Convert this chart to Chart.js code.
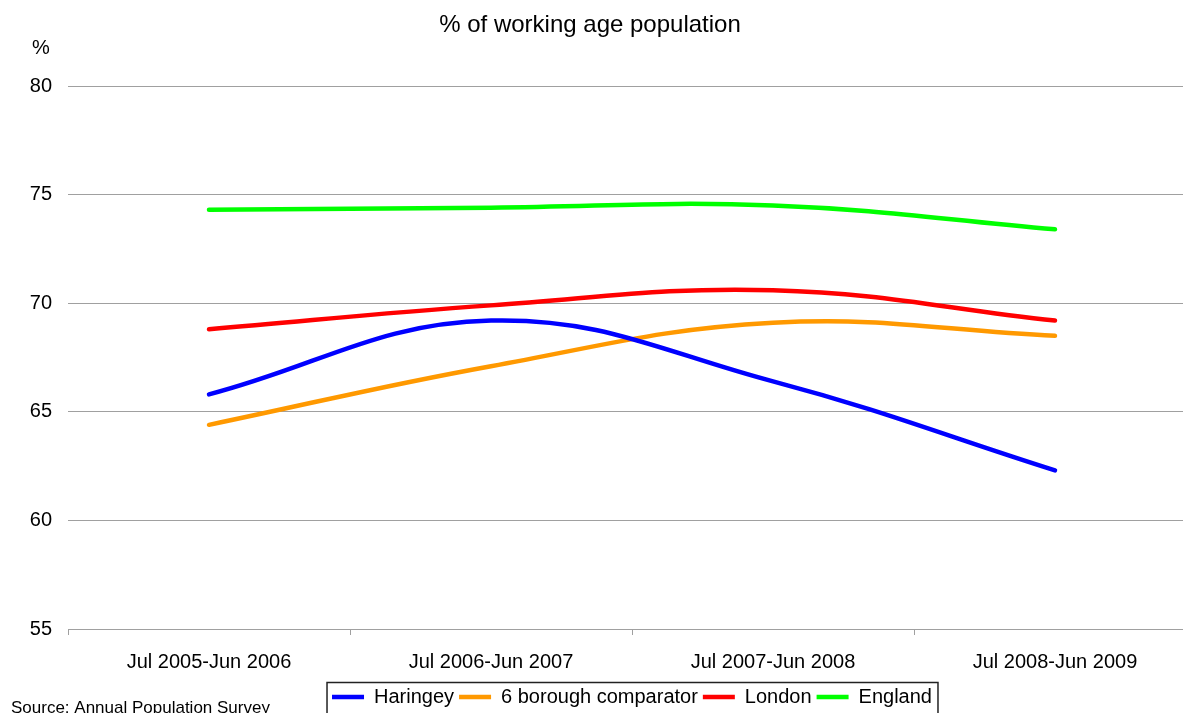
<!DOCTYPE html>
<html>
<head>
<meta charset="utf-8">
<script src="https://cdn.jsdelivr.net/npm/chart.js@4"></script>
<style>
  body { margin: 0; background: #fff; }
  #wrap { width: 1183px; height: 713px; overflow: hidden; position: relative; }
</style>
</head>
<body>
<div id="wrap"><canvas id="chart" width="1196" height="713"></canvas></div>
<script>
const periods = ['Jul 2005-Jun 2006', 'Jul 2006-Jun 2007', 'Jul 2007-Jun 2008', 'Jul 2008-Jun 2009'];
const haringey = [65.8, 69.2, 66.4, 62.3];
const boroughComparator = [64.4, 67.1, 69.1, 68.5];
const london = [68.8, 69.9, 70.6, 69.2];
const england = [74.3, 74.4, 74.5, 73.4];
const yTicks = [55, 60, 65, 70, 75, 80];

const font = 'Liberation Sans, Arial, sans-serif';
const gridColor = '#a0a0a0';

function series(label, values, color) {
    return {
        label: label,
        data: values,
        borderColor: color,
        backgroundColor: color,
        borderWidth: 4.5,
        borderCapStyle: 'round',
        pointRadius: 0,
        tension: 0.4,
        fill: false
    };
}

// title, "%" and source note are drawn straight onto the canvas
const extraText = {
    id: 'extraText',
    afterDraw(chart) {
        const ctx = chart.ctx;
        ctx.save();
        ctx.fillStyle = '#000';
        ctx.textBaseline = 'alphabetic';

        ctx.font = '24px ' + font;
        ctx.textAlign = 'center';
        ctx.fillText('% of working age population', 590, 32);

        ctx.font = '20px ' + font;
        ctx.textAlign = 'left';
        ctx.fillText('%', 32, 54);

        ctx.font = '17px ' + font;
        ctx.fillText('Source: Annual Population Survey', 11, 713);

        // border round the legend
        const lg = chart.legend;
        const boxes = lg.legendHitBoxes;
        if (boxes && boxes.length) {
            const first = boxes[0];
            const last = boxes[boxes.length - 1];
            const left = first.left - 5;
            const right = last.left + last.width + 6;
            ctx.strokeStyle = '#222';
            ctx.lineWidth = 1.5;
            ctx.strokeRect(left, lg.top + 0.5, right - left, 60);
        }
        ctx.restore();
    }
};

new Chart(document.getElementById('chart'), {
    type: 'line',
    data: {
        labels: periods,
        datasets: [
            series('Haringey', haringey, '#0000ff'),
            series('6 borough comparator', boroughComparator, '#ff9900'),
            series('London', london, '#ff0000'),
            series('England', england, '#00ff00')
        ]
    },
    options: {
        responsive: false,
        devicePixelRatio: 1,
        animation: false,
        layout: { padding: { top: 86, right: 0, bottom: -4, left: 0 } },
        plugins: {
            title: { display: false },
            tooltip: { enabled: false },
            legend: {
                position: 'bottom',
                fullSize: false,
                labels: {
                    color: '#000',
                    font: { family: font, size: 20 },
                    usePointStyle: true,
                    pointStyle: 'line',
                    pointStyleWidth: 32,
                    padding: 5
                }
            }
        },
        scales: {
            x: {
                offset: true,
                grid: {
                    offset: true,
                    drawOnChartArea: false,
                    drawTicks: true,
                    tickLength: 6,
                    color: gridColor
                },
                border: { display: true, color: gridColor },
                ticks: {
                    color: '#000',
                    font: { family: font, size: 20 },
                    padding: 15,
                    maxRotation: 0
                },
                afterFit(scale) { scale.height = 53; }
            },
            y: {
                min: 55,
                max: 80,
                afterBuildTicks(scale) {
                    scale.ticks = yTicks.map(v => ({ value: v }));
                },
                grid: { color: gridColor, drawTicks: false },
                border: { display: false },
                ticks: {
                    color: '#000',
                    font: { family: font, size: 20 },
                    padding: 16
                },
                afterFit(scale) { scale.width = 68; }
            }
        }
    },
    plugins: [extraText]
});
</script>
</body>
</html>
